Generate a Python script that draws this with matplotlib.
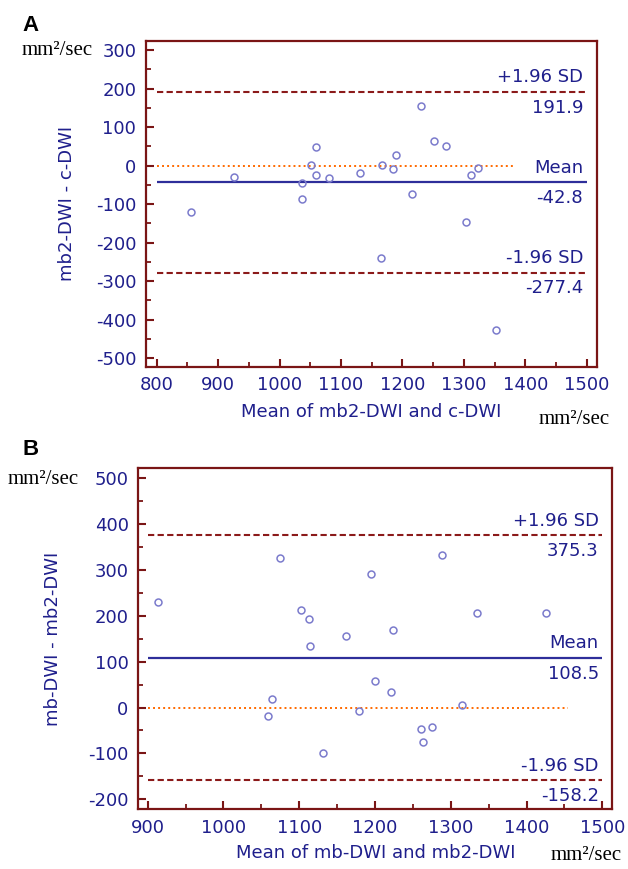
import matplotlib
matplotlib.use("Agg")
import matplotlib.pyplot as plt
import numpy as np

plt.rcParams["axes.unicode_minus"] = False

# ---------------- data ----------------
a_mean = [855.8, 926.3, 1037.0, 1037.0, 1050.7, 1058.8, 1058.8, 1080.5, 1130.5, 1165.6, 1166.3,
          1185.2, 1189.0, 1216.0, 1230.7, 1251.4, 1270.4, 1303.0, 1311.2, 1323.0, 1351.8]
a_diff = [-121.0, -30.4, -45.9, -86.5, 1.8, 47.5, -23.4, -31.0, -19.0, -240.5, 1.8,
          -8.6, 26.8, -74.4, 155.7, 63.0, 50.0, -147.0, -24.2, -5.2, -427.3]
a_stats = [191.9, -42.8, -277.4]   # +1.96 SD, mean, -1.96 SD
a_xlabel = "Mean of mb2-DWI and c-DWI"
a_ylabel = "mb2-DWI - c-DWI"
a_xticks = [800, 900, 1000, 1100, 1200, 1300, 1400, 1500]
a_yticks = [-500, -400, -300, -200, -100, 0, 100, 200, 300]
a_zero_end = 1380

b_mean = [913.2, 1058.4, 1064.0, 1074.6, 1102.3, 1113.3, 1114.2, 1131.8, 1161.3, 1179.3, 1194.7,
          1199.6, 1221.5, 1223.7, 1260.3, 1263.7, 1275.6, 1288.8, 1314.4, 1334.2, 1426.1]
b_diff = [230.5, -18.2, 19.0, 325.6, 213.7, 193.4, 133.7, -98.1, 156.3, -6.5, 291.5,
          57.4, 34.2, 168.6, -46.5, -74.1, -42.1, 333.6, 6.5, 207.2, 207.2]
b_stats = [375.3, 108.5, -158.2]
b_xlabel = "Mean of mb-DWI and mb2-DWI"
b_ylabel = "mb-DWI - mb2-DWI"
b_xticks = [900, 1000, 1100, 1200, 1300, 1400, 1500]
b_yticks = [-200, -100, 0, 100, 200, 300, 400, 500]
b_zero_end = 1455

unit = "mm\u00b2/sec"

# ---------------- style ----------------
W, H = 628, 869
SANS = ["DejaVu Sans"]
SERIF = ["Liberation Serif", "DejaVu Serif"]
SPINE = "#7a1515"
TXT = "#1f1f8c"
MEANC = "#2e2e9a"
SDC = "#8b1a1a"
ZEROC = "#ff6a00"
MKC = "#7b7bcc"
FS = 13

fig = plt.figure(figsize=(W / 100, H / 100), dpi=100)


def fx(px):
    return px / W


def fy(py):
    return 1 - py / H


def panel(rect_px, xlim, ylim, xticks, yticks, mean, diff, stats, zero_end,
          xlabel, ylabel, ylab_x, xlab_y, letter_xy, unit_top, unit_bot):
    l, t, r, b = rect_px
    ax = fig.add_axes([fx(l), fy(b), fx(r) - fx(l), fy(t) - fy(b)])
    ax.set_xlim(*xlim)
    ax.set_ylim(*ylim)
    for s in ax.spines.values():
        s.set_color(SPINE)
        s.set_linewidth(1.6)
    ax.set_xticks(xticks)
    ax.set_yticks(yticks)
    ax.set_xticks(np.arange(xticks[0], xticks[-1] + 1, 50), minor=True)
    ax.set_yticks(np.arange(yticks[0], yticks[-1] + 1, 50), minor=True)
    ax.tick_params(which="major", direction="in", length=6, width=1.5, color=SPINE,
                   labelcolor=TXT, labelsize=FS)
    ax.tick_params(which="minor", direction="in", length=3.5, width=1.3, color=SPINE)
    ax.tick_params(axis="y", which="major", pad=7)
    ax.tick_params(axis="x", which="major", pad=7)
    for lab in ax.get_xticklabels() + ax.get_yticklabels():
        lab.set_family(SANS)

    x0, x1 = xticks[0], xticks[-1]
    up, mu, lo = stats
    ax.hlines(0, x0, zero_end, colors=ZEROC, linestyles=(0, (1.0, 1.6)), linewidth=1.4, zorder=2)
    ax.hlines(mu, x0, x1, colors=MEANC, linewidth=1.6, zorder=2)
    ax.hlines([up, lo], x0, x1, colors=SDC, linestyles=(0, (3.0, 1.6)), linewidth=1.5, zorder=2)
    ax.plot(mean, diff, linestyle="none", marker="o", markersize=5, markerfacecolor="none",
            markeredgecolor=MKC, markeredgewidth=1.1, zorder=3)

    for val, top_txt in [(up, "+1.96 SD"), (mu, "Mean"), (lo, "-1.96 SD")]:
        ax.annotate(top_txt, xy=(x1, val), xytext=(-2.5, 4), textcoords="offset points",
                    ha="right", va="bottom", color=TXT, fontsize=FS, family=SANS)
        ax.annotate(f"{val:.1f}", xy=(x1, val), xytext=(-2.5, -5), textcoords="offset points",
                    ha="right", va="top", color=TXT, fontsize=FS, family=SANS)

    cx = (l + r) / 2
    cy = (t + b) / 2
    fig.text(fx(ylab_x), fy(cy), ylabel, rotation=90, ha="center", va="center",
             color=TXT, fontsize=FS, family=SANS)
    fig.text(fx(cx), fy(xlab_y), xlabel, ha="center", va="center",
             color=TXT, fontsize=FS, family=SANS)
    fig.text(fx(letter_xy[0]), fy(letter_xy[1]), letter_xy[2], ha="left", va="baseline",
             color="black", fontsize=16, fontweight="bold", family=["Liberation Sans", "DejaVu Sans"])
    fig.text(fx(unit_top[0]), fy(unit_top[1]), unit, ha="left", va="center",
             color="black", fontsize=15, family=SERIF)
    fig.text(fx(unit_bot[0]), fy(unit_bot[1]), unit, ha="right", va="center",
             color="black", fontsize=15, family=SERIF)
    return ax


panel((146, 40.7, 596.7, 366.7), (782.6, 1516.3), (-521.8, 324.1), a_xticks, a_yticks,
      a_mean, a_diff, a_stats, a_zero_end, a_xlabel, a_ylabel,
      ylab_x=67, xlab_y=412, letter_xy=(22, 31, "A"), unit_top=(22, 50.7), unit_bot=(610, 420))

panel((138.3, 468.3, 612.3, 809), (887.6, 1513.2), (-221.2, 521.8), b_xticks, b_yticks,
      b_mean, b_diff, b_stats, b_zero_end, b_xlabel, b_ylabel,
      ylab_x=53, xlab_y=853, letter_xy=(22, 455, "B"), unit_top=(8, 479.3), unit_bot=(622, 856))

fig.savefig("out.png", dpi=100)
